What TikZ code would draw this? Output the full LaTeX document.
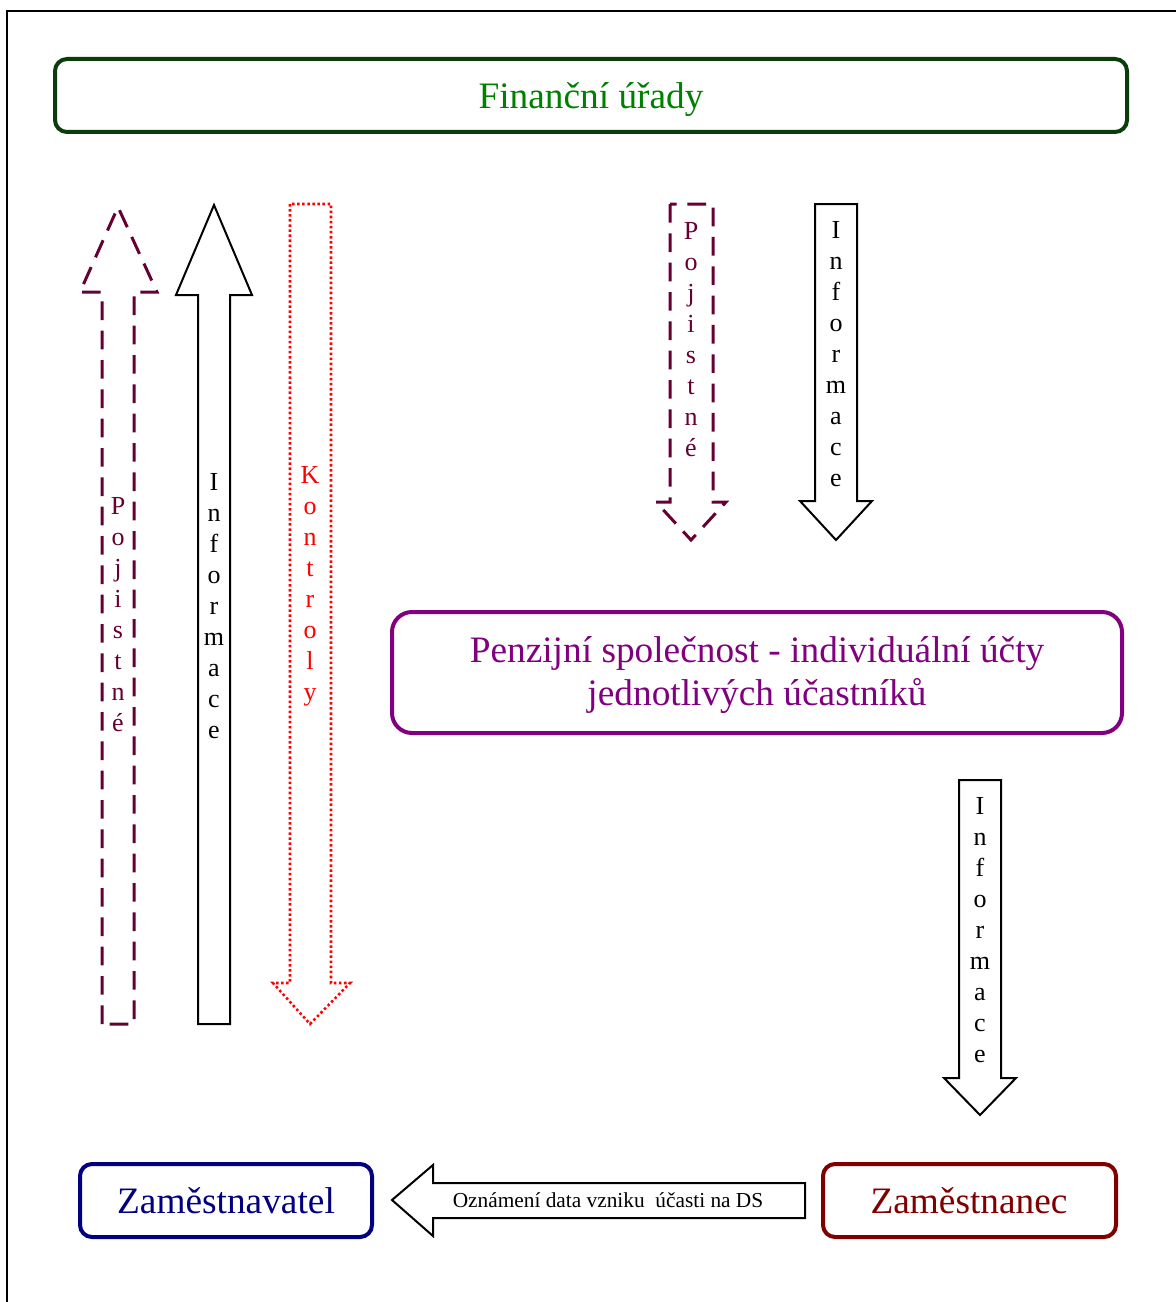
\documentclass[tikz,border=0pt]{standalone}
\usepackage{fontspec}
\setmainfont{Liberation Serif}
\definecolor{fgreen}{HTML}{0B3D0B}
\definecolor{tgreen}{HTML}{008000}
\definecolor{maroonp}{HTML}{660033}
\definecolor{purp}{HTML}{800080}
\definecolor{navyb}{HTML}{000080}
\definecolor{darkr}{HTML}{800000}
\tikzset{
  boxline/.style={line width=3pt, rounded corners=9pt},
  bigtext/.style={font=\fontsize{28}{32}\selectfont, align=center},
  vtext/.style={font=\fontsize{19.5}{23.25}\selectfont, align=center, inner sep=0pt},
  solidarrow/.style={draw=black, fill=white, line width=1.5pt, line join=miter},
  dasharrow/.style={draw=maroonp, fill=white, line width=2.25pt, dash pattern=on 14pt off 8pt},
  dotarrow/.style={draw=red, fill=white, line width=1.9pt, dash pattern=on 1.9pt off 1.9pt},
}
\begin{document}
\begin{tikzpicture}[x=0.75pt,y=-0.75pt]
\useasboundingbox (0,0) rectangle (1176,1302);
% outer frame
\draw[line width=1.5pt] (7,1302) -- (7,11) -- (1176,11);

% Finanční úřady
\draw[boxline, draw=fgreen] (55,59) rectangle (1127,132);
\node[bigtext, text=tgreen] (fu) at (591,100) {Finanční úřady};

% left arrows
\draw[dasharrow] (102,1024) -- (102,292) -- (80,292) -- (118,207) -- (157,292) -- (134,292) -- (134,1024) -- cycle;
\node[vtext, text=maroonp] (poj1) at (118,615) {P\\o\\j\\i\\s\\t\\n\\é};

\draw[solidarrow] (198,1024) -- (198,295) -- (176,295) -- (214,205) -- (252,295) -- (230,295) -- (230,1024) -- cycle;
\node[vtext] (inf1) at (214,606) {I\\n\\f\\o\\r\\m\\a\\c\\e};

\draw[dotarrow] (290,204) -- (290,983) -- (273,983) -- (310,1024) -- (350,983) -- (331,983) -- (331,204) -- cycle;
\node[vtext, text=red] (kon) at (310,586) {K\\o\\n\\t\\r\\o\\l\\y};

% top right arrows
\draw[dasharrow] (670,204) -- (670,502) -- (656,502) -- (691,540) -- (726,502) -- (713,502) -- (713,204) -- cycle;
\node[vtext, text=maroonp] (poj2) at (691,340) {P\\o\\j\\i\\s\\t\\n\\é};

\draw[solidarrow] (815,204) -- (815,501) -- (800,501) -- (836,540) -- (872,501) -- (857,501) -- (857,204) -- cycle;
\node[vtext] (inf2) at (836,354) {I\\n\\f\\o\\r\\m\\a\\c\\e};

% Penzijní společnost
\draw[boxline, draw=purp, rounded corners=15pt] (392,612) rectangle (1122,733);
\node[bigtext, text=purp] (ps) at (757,675) {Penzijní společnost - individuální účty\\jednotlivých účastníků};

% lower right arrow
\draw[solidarrow] (959,780) -- (959,1078) -- (944,1078) -- (980,1115) -- (1016,1078) -- (1001,1078) -- (1001,780) -- cycle;
\node[vtext] (inf3) at (980,930) {I\\n\\f\\o\\r\\m\\a\\c\\e};

% bottom boxes
\draw[boxline, draw=navyb] (80,1164) rectangle (372,1237);
\node[bigtext, text=navyb] (zl) at (226,1201) {Zaměstnavatel};

\draw[boxline, draw=darkr] (823,1164) rectangle (1116,1237);
\node[bigtext, text=darkr] (zc) at (969,1201) {Zaměstnanec};

% bottom left arrow
\draw[solidarrow] (805,1183) -- (433,1183) -- (433,1165) -- (392,1200) -- (433,1236) -- (433,1218) -- (805,1218) -- cycle;
\node[font=\fontsize{16}{19}\selectfont] (ozn) at (608,1200) {Oznámení data vzniku\ \ účasti na DS};
\end{tikzpicture}
\end{document}
